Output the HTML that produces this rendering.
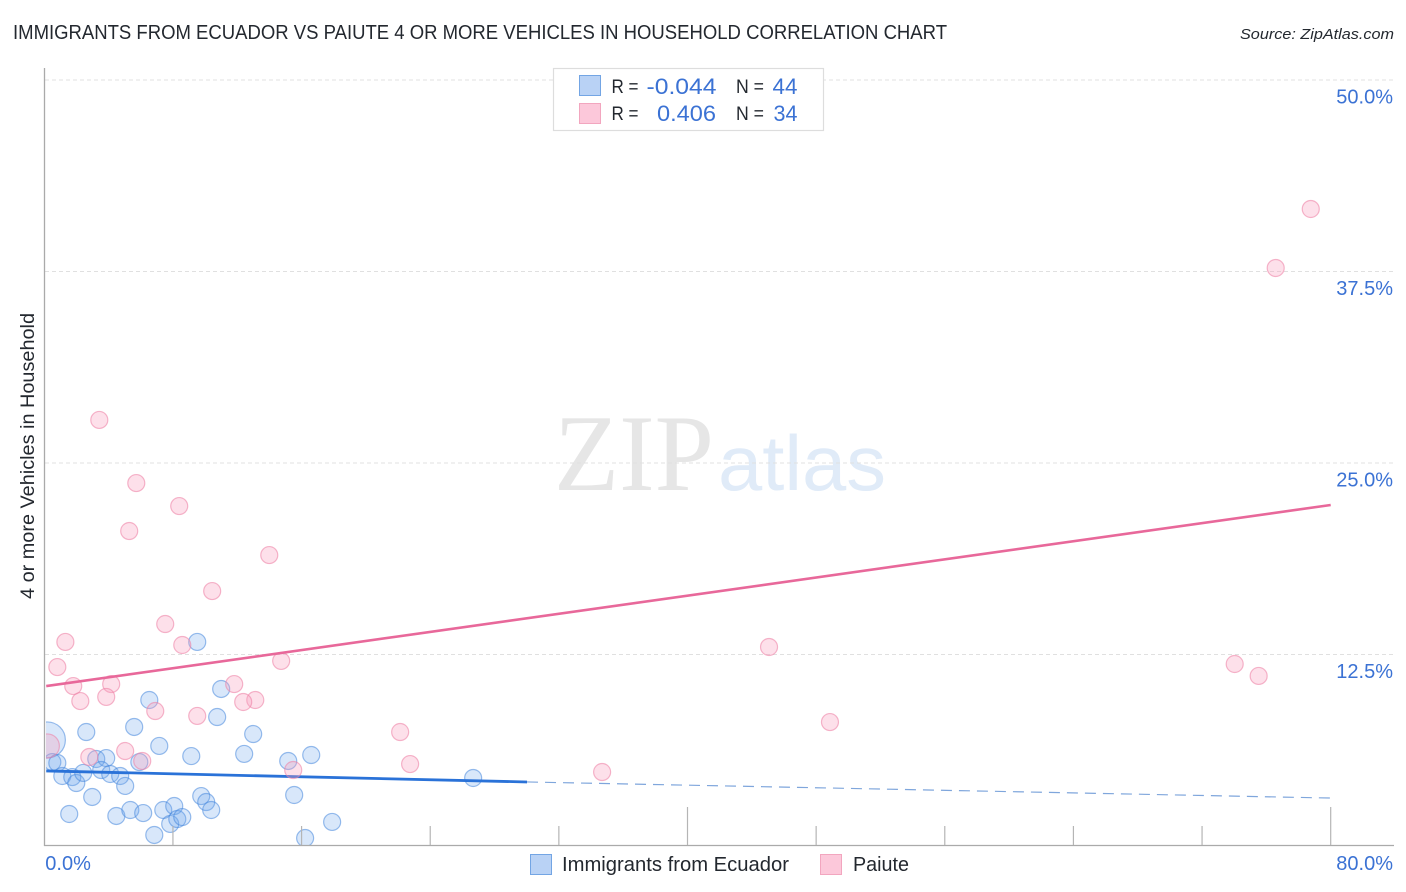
<!DOCTYPE html>
<html lang="en">
<head>
<meta charset="utf-8">
<title>Immigrants from Ecuador vs Paiute chart</title>
<style>
html,body{margin:0;padding:0;background:#fff;width:1406px;height:892px;overflow:hidden}
svg{display:block;font-family:"Liberation Sans",sans-serif}
</style>
</head>
<body>
<svg id="chart" width="1406" height="892" viewBox="0 0 1406 892" xmlns="http://www.w3.org/2000/svg">
  <defs><clipPath id="plot-clip"><rect x="46" y="60" width="1360" height="785"/></clipPath></defs>
  <text x="13" y="39" font-size="20" fill="#23282f" textLength="934" lengthAdjust="spacingAndGlyphs">IMMIGRANTS FROM ECUADOR VS PAIUTE 4 OR MORE VEHICLES IN HOUSEHOLD CORRELATION CHART</text>
  <text x="1240" y="39" font-size="15" font-style="italic" fill="#23282f" textLength="154" lengthAdjust="spacingAndGlyphs">Source: ZipAtlas.com</text>

  <g>
    <text x="554" y="490" font-family="'Liberation Serif',serif" font-size="109" fill="#e6e6e6" textLength="160" lengthAdjust="spacingAndGlyphs">ZIP</text>
    <text x="718" y="490" font-size="78" fill="#e0ebf8" textLength="168" lengthAdjust="spacingAndGlyphs">atlas</text>
  </g>

  <g id="grid"></g>
  <g id="marks" clip-path="url(#plot-clip)"></g>

  <line x1="44.5" y1="68" x2="44.5" y2="846" stroke="#aaa" stroke-width="1.3"/>
  <line x1="44" y1="845.5" x2="1394" y2="845.5" stroke="#aaa" stroke-width="1.3"/>
  <g id="ticks"></g>
  <g id="labels"></g>

  <text transform="translate(34,456) rotate(-90)" font-size="19" fill="#23282f" text-anchor="middle" textLength="286" lengthAdjust="spacingAndGlyphs">4 or more Vehicles in Household</text>

  <g>
    <rect x="553.5" y="68.5" width="270" height="62" fill="#fff" stroke="#ddd" stroke-width="1.2"/>
    <rect x="579.5" y="75.5" width="21" height="20" fill="#b9d2f5" stroke="#73a5e4" stroke-width="1"/>
    <rect x="579.5" y="103.5" width="21" height="20" fill="#fcc8da" stroke="#f2a6bf" stroke-width="1"/>
    <text x="611.5" y="93" font-size="19" fill="#23282f" textLength="27" lengthAdjust="spacingAndGlyphs">R =</text>
    <text x="646.5" y="94" font-size="22" fill="#3b72d4" textLength="70" lengthAdjust="spacingAndGlyphs">-0.044</text>
    <text x="736" y="93" font-size="19" fill="#23282f" textLength="28" lengthAdjust="spacingAndGlyphs">N =</text>
    <text x="772.5" y="94" font-size="22" fill="#3b72d4" textLength="25" lengthAdjust="spacingAndGlyphs">44</text>
    <text x="611.5" y="120" font-size="19" fill="#23282f" textLength="27" lengthAdjust="spacingAndGlyphs">R =</text>
    <text x="657" y="121" font-size="22" fill="#3b72d4" textLength="59" lengthAdjust="spacingAndGlyphs">0.406</text>
    <text x="736" y="120" font-size="19" fill="#23282f" textLength="28" lengthAdjust="spacingAndGlyphs">N =</text>
    <text x="773.5" y="121" font-size="22" fill="#3b72d4" textLength="24" lengthAdjust="spacingAndGlyphs">34</text>
  </g>

  <g>
    <rect x="530.5" y="854.5" width="21" height="20" fill="#b9d2f5" stroke="#73a5e4" stroke-width="1"/>
    <text x="562" y="871" font-size="20" fill="#23282f" textLength="227" lengthAdjust="spacingAndGlyphs">Immigrants from Ecuador</text>
    <rect x="820.5" y="854.5" width="21" height="20" fill="#fcc8da" stroke="#f2a6bf" stroke-width="1"/>
    <text x="853" y="871" font-size="20" fill="#23282f" textLength="56" lengthAdjust="spacingAndGlyphs">Paiute</text>
  </g>
</svg>
<script>
var ecuadorX = [9.51,11.00,10.75,12.99,12.43,16.60,15.17,15.54,17.90,16.22,6.53,5.59,7.15,9.14,2.61,0.19,0.50,0.81,1.12,1.74,1.99,2.42,3.23,3.85,3.54,4.10,4.72,5.03,5.91,2.98,1.55,4.48,5.35,6.15,7.40,8.08,7.83,8.27,8.58,6.84,9.76,10.07,10.38,26.67];
var ecuadorY = [13.32,10.25,8.42,7.31,6.01,5.94,5.55,3.33,1.57,0.52,9.53,7.77,6.53,5.87,7.44,6.92,5.48,5.42,4.57,4.50,4.11,4.77,5.68,5.74,4.96,4.70,4.57,3.92,5.48,3.20,2.09,1.96,2.35,2.15,2.35,2.61,1.44,1.76,1.89,0.72,3.26,2.87,2.35,4.44];
var ecuadorWeight = [1,1,1,1,1,1,1,1,1,1,1,1,1,1,1,4.5,1,1,1,1,1,1,1,1,1,1,1,1,1,1,1,1,1,1,1,1,1,1,1,1,1,1,1,1];
var paiuteX = [3.42,5.72,8.39,5.28,13.99,10.44,7.52,8.58,1.31,0.81,14.73,1.80,4.16,2.24,3.85,11.81,13.12,12.37,6.90,9.51,22.13,5.03,6.09,2.80,0.19,15.48,22.75,34.69,45.07,48.86,74.03,75.52,76.58,78.76];
var paiuteY = [27.81,23.69,22.19,20.56,18.99,16.64,14.49,13.12,13.32,11.68,12.08,10.44,10.57,9.46,9.73,10.57,9.53,9.40,8.81,8.49,7.44,6.20,5.55,5.81,6.53,4.96,5.35,4.83,12.99,8.09,11.88,11.10,37.73,41.58];
var paiuteWeight = [1,1,1,1,1,1,1,1,1,1,1,1,1,1,1,1,1,1,1,1,1,1,1,1,2,1,1,1,1,1,1,1,1,1];
var ecuadorTrendSolidX = [0.12,30.02];
var ecuadorTrendSolidY = [4.90,4.18];
var ecuadorTrendDashX = [30.02,80];
var ecuadorTrendDashY = [4.18,3.13];
var paiuteTrendX = [0.12,80];
var paiuteTrendY = [10.44,22.26];
var yTicks = [12.5,25,37.5,50];
var yTickLabels = ['12.5%','25.0%','37.5%','50.0%'];
var xTicks = [8,16,24,32,40,48,56,64,72,80];
var xMajorTicks = [40,80];
var xEnds = [0,80];
var xEndLabels = ['0.0%','80.0%'];

var NS = 'http://www.w3.org/2000/svg';
function sx(v){ return 44.3 + v * 16.08; }
function sy(v){ return 846 - v * 15.32; }
function make(tag, parent, attrs){
  var el = document.createElementNS(NS, tag);
  for (var k in attrs) el.setAttribute(k, attrs[k]);
  parent.appendChild(el);
  return el;
}
var grid = document.getElementById('grid');
var marks = document.getElementById('marks');
var ticks = document.getElementById('ticks');
var labels = document.getElementById('labels');

yTicks.forEach(function(v, i){
  var g = make('line', grid, {x1:45, x2:1394, y1:sy(v), y2:sy(v), stroke:'#e0e0e0', 'stroke-width':1, 'stroke-dasharray':'4 3'});
  
  
  var t = make('text', labels, {x:1393, y:sy(v)+23.5, 'font-size':20, fill:'#3b72d4', 'text-anchor':'end'});
  t.textContent = yTickLabels[i];
  
  
});
xTicks.forEach(function(v){
  var top = xMajorTicks.indexOf(v) >= 0 ? 807 : 826;
  var l = make('line', ticks, {x1:sx(v), x2:sx(v), y1:top, y2:845, stroke:'#b5b5b5', 'stroke-width':1.2});
  
  
});
xEnds.forEach(function(v, i){
  var t = make('text', labels, {x: i === 0 ? sx(v)+1 : 1393, y:870, 'font-size':20, fill:'#3b72d4', 'text-anchor': i === 0 ? 'start' : 'end'});
  t.textContent = xEndLabels[i];
  
  
});

function drawPoints(xs, ys, ws, fill, stroke, name){
  xs.forEach(function(x, i){
    var c = make('circle', marks, {cx:sx(x), cy:sy(ys[i]), r:8.5*Math.sqrt(ws[i]), fill:fill, stroke:stroke, 'stroke-width':1.2});
    
    
  });
}
function drawLine(xs, ys, stroke, width, dash, name){
  var a = {x1:sx(xs[0]), y1:sy(ys[0]), x2:sx(xs[1]), y2:sy(ys[1]), stroke:stroke, 'stroke-width':width};
  if (dash) a['stroke-dasharray'] = dash;
  var l = make('line', marks, a);
  
  
}
drawPoints(ecuadorX, ecuadorY, ecuadorWeight, 'rgba(110,165,235,0.27)', 'rgba(70,135,220,0.55)', 'ecuador-point');
drawLine(ecuadorTrendSolidX, ecuadorTrendSolidY, '#2a72d8', 2.8, null, 'ecuador-trend-solid');
drawLine(ecuadorTrendDashX, ecuadorTrendDashY, '#7fa6dc', 1.2, '11 7', 'ecuador-trend-dashed');
drawPoints(paiuteX, paiuteY, paiuteWeight, 'rgba(248,160,190,0.32)', 'rgba(238,130,165,0.58)', 'paiute-point');
drawLine(paiuteTrendX, paiuteTrendY, '#e8689a', 2.6, null, 'paiute-trend');
</script>
</body>
</html>
